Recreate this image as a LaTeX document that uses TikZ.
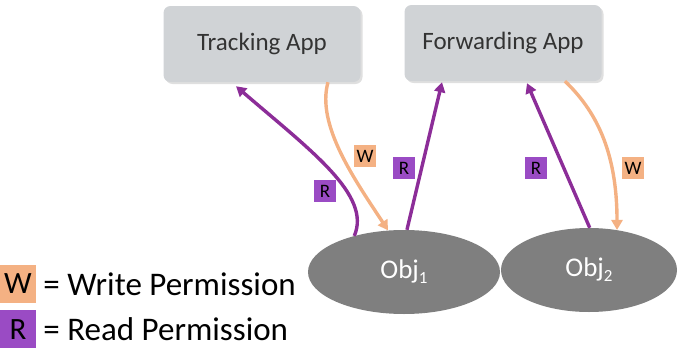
\documentclass[tikz,border=0pt]{standalone}
\usepackage{fontspec}
\setmainfont{Carlito}
\usetikzlibrary{shapes,arrows.meta,positioning,shadows}

\definecolor{wfill}{HTML}{F4B183}
\definecolor{rfill}{HTML}{9A4BC4}
\definecolor{rline}{HTML}{8C2D98}
\definecolor{appgray}{HTML}{D0D3D6}
\definecolor{objgray}{HTML}{7F7F7F}
\newcommand{\objsub}[1]{\raisebox{-5pt}{\fontsize{17}{17}\selectfont #1}}

\begin{document}
\begin{tikzpicture}[
    x=1pt, y=-1pt,
    app/.style={fill=appgray, rounded corners=7pt, minimum width=197pt, minimum height=76pt,
                font=\fontsize{25}{30}\selectfont, text=black!80,
                drop shadow={opacity=0.25, shadow xshift=2pt, shadow yshift=-2pt}},
    obj/.style={ellipse, fill=objgray, text=white, inner sep=0pt, font=\fontsize{27}{32}\selectfont},
    tag/.style={minimum size=22pt, inner sep=0pt, font=\fontsize{19}{22}\selectfont},
    key/.style={minimum width=36pt, minimum height=38pt, inner sep=0pt, font=\fontsize{31}{36}\selectfont},
    keytext/.style={inner sep=0pt, font=\fontsize{33}{40}\selectfont},
    warrow/.style={draw=wfill, line width=3.4pt, -{Triangle[length=10pt,width=11pt]}},
    rarrow/.style={draw=rline, line width=3.4pt, -{Triangle[length=10pt,width=11pt]}}
  ]
  \useasboundingbox (0,0) rectangle (680,348);

  % apps
  \node[app] (track) at (262,44) {Tracking App};
  \node[app] (fwd) at (503,43) {Forwarding App};

  % objects
  \node[obj, minimum width=192pt, minimum height=84pt] (obj1) at (404,272) {Obj\objsub{1}};
  \node[obj, minimum width=176pt, minimum height=84pt] (obj2) at (589,270) {Obj\objsub{2}};

  % permissions
  \draw[rarrow] (obj1.144) .. controls (372,195) and (310,150) .. ([xshift=-26pt,yshift=-4pt]track.south);
  \draw[warrow] ([xshift=66pt]track.south) .. controls (316,125) and (355,180) .. (obj1.111);
  \draw[rarrow] (obj1.86) -- ([xshift=-61pt,yshift=-1pt]fwd.south);
  \draw[rarrow] (obj2.89) -- ([xshift=24pt,yshift=-2pt]fwd.south);
  \draw[warrow] ([xshift=62pt]fwd.south) .. controls (595,110) and (617,150) .. (obj2.55);

  \node[tag, fill=rfill] (r1) at (325,191) {R};
  \node[tag, fill=wfill] (w1) at (365,156) {W};
  \node[tag, fill=rfill] (r2) at (404,168) {R};
  \node[tag, fill=rfill] (r3) at (536,168) {R};
  \node[tag, fill=wfill] (w2) at (633,168) {W};

  % legend
  \node[key, fill=wfill] (wkey) at (18,284) {W};
  \node[keytext, right=7pt of wkey] (wtext) {= Write Permission};
  \node[key, fill=rfill, below=7pt of wkey] (rkey) {R};
  \node[keytext, right=7pt of rkey] (rtext) {= Read Permission};
\end{tikzpicture}
\end{document}
